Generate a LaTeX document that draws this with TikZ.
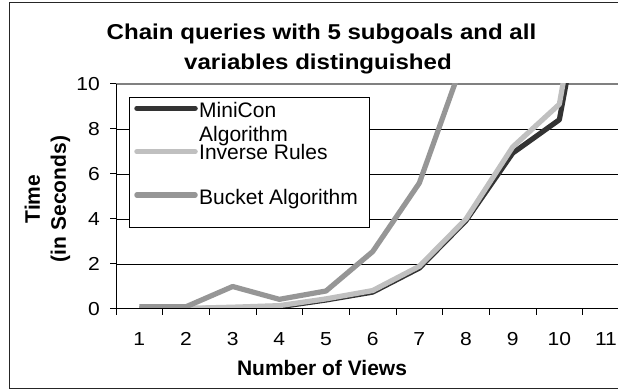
\documentclass[tikz,border=0pt]{standalone}
\usepackage{fontspec}
\setmainfont{Liberation Sans}
\definecolor{minic}{HTML}{333333}
\definecolor{invc}{HTML}{C0C0C0}
\definecolor{buckc}{HTML}{969696}
\begin{document}
\begin{tikzpicture}[x=1pt,y=1pt,
  gridl/.style={black,line width=0.9pt},
  tickl/.style={black,line width=1pt},
  ser/.style={line width=5.2pt,line join=round},
  legline/.style={line width=5.5pt,line cap=round},
  ticklab/.style={font=\fontsize{18.8}{22}\selectfont,inner sep=0pt,xscale=1.12},
  legtxt/.style={font=\fontsize{21}{24}\selectfont,inner sep=0pt,anchor=base west},
  titletxt/.style={font=\fontsize{21.5}{30}\selectfont\bfseries,inner sep=0pt,anchor=base,xscale=1.12},
  axtitle/.style={font=\fontsize{21}{26}\selectfont\bfseries,inner sep=0pt,align=center}]
\useasboundingbox (0,0) rectangle (618,390);
\fill[white] (0,0) rectangle (618,390);
% outer frame
\draw[line width=1.3pt,black!85] (618,387.3) -- (9.3,387.3) -- (9.3,1.7) -- (618,1.7);
% title
\node[titletxt] (t1) at (321.5,350) {Chain queries with 5 subgoals and all};
\node[titletxt] (t2) at (318,320) {variables distinguished};
% gridlines
\foreach \v in {2,4,6,8} \draw[gridl] (116,{81+22.5*\v}) -- (618,{81+22.5*\v});
\draw[line width=1.6pt,black!50] (116,306) -- (618,306);
% series
\begin{scope}
\clip (116,81) rectangle (618,306);
\begin{scope}[shift={(92.667pt,81pt)},x=46.667pt,y=22.5pt]
\draw[ser,minic] (1,0) -- (2,0) -- (3,0.05) -- (4,0.1) -- (5,0.4) -- (6,0.75) -- (7,1.82) -- (8,3.93) -- (9,6.93) -- (10,8.41) -- (11,19.5);
\draw[ser,invc] (1,0) -- (2,0.03) -- (3,0.08) -- (4,0.15) -- (5,0.45) -- (6,0.82) -- (7,1.9) -- (8,4.0) -- (9,7.2) -- (10,9.1) -- (11,20.7);
\draw[ser,buckc] (1,0.1) -- (2,0.1) -- (3,1.0) -- (4,0.43) -- (5,0.8) -- (6,2.55) -- (7,5.6) -- (8,11.4);
\end{scope}
\end{scope}
% axes
\draw[tickl] (116,306) -- (116,81) -- (618,81);
\foreach \v in {0,2,...,10} \draw[tickl] (110,{81+22.5*\v}) -- (116,{81+22.5*\v});
\foreach \k in {0,...,10} \draw[tickl] ({116+46.667*\k},81) -- ({116+46.667*\k},75);
% y tick labels
\foreach \v in {0,2,...,10} \node[ticklab,anchor=east] (yl\v) at (100,{81+22.5*\v}) {\v};
% x tick labels
\foreach \i in {1,...,11} \node[ticklab,anchor=base] (xl\i) at ({116+(\i-0.5)*46.667},44.3) {\i};
% axis titles
\node[axtitle,anchor=base] (xt) at (322,14) {Number of Views};
\node[axtitle,rotate=90] (yt) at (47.5,191) {Time\\(in Seconds)};
% legend
\node[draw=black,line width=0.9pt,fill=white,minimum width=240pt,minimum height=130pt,inner sep=0pt,anchor=north west] (leg) at (129.3,293.3) {};
\draw[legline,minic] (137,281.7) -- (195,281.7);
\draw[legline,invc] (137,238.3) -- (195,238.3);
\draw[legline,buckc] (137,195) -- (195,195);
\node[legtxt] (l1) at (199,272) {MiniCon};
\node[legtxt] (l1b) at (199,248.3) {Algorithm};
\node[legtxt] (l2) at (199,230) {Inverse Rules};
\node[legtxt] (l3) at (199,185) {Bucket Algorithm};
\end{tikzpicture}
\end{document}
